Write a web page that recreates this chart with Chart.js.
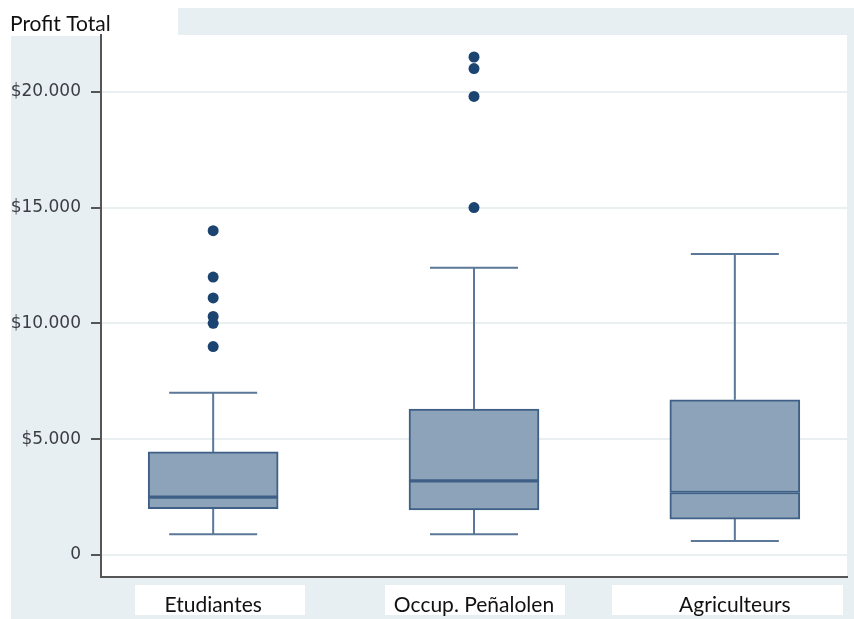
<!DOCTYPE html>
<html>
<head>
<meta charset="utf-8">
<script src="https://cdn.jsdelivr.net/npm/chart.js@4"></script>
<style>
  body { margin: 0; background: #fff; }
</style>
</head>
<body>
<canvas id="myChart" width="854" height="619"></canvas>
<script>
// data
const categories = ['Etudiantes', 'Occup. Peñalolen', 'Agriculteurs'];
const whiskerLow = [900, 900, 600];
const q1 = [2000, 1950, 1550];
const median = [2500, 3200, 2700];
const q3 = [4450, 6300, 6700];
const whiskerHigh = [7000, 12400, 13000];
const outliers = [
  [14000, 12000, 11100, 10300, 10000, 9000],
  [21500, 21000, 19800, 15000],
  []
];
const yTicks = [0, 5000, 10000, 15000, 20000];
const yTickLabels = ['0', '$5.000', '$10.000', '$15.000', '$20.000'];

const boxFill = '#8da3b9';
const boxLine = '#3e5f86';
const whiskerColor = '#5b7899';
const dotColor = '#1b4470';

// background: grey frame, white plot and white patches of the original
const backgroundPlugin = {
  id: 'background',
  beforeDraw(chart) {
    const ctx = chart.ctx;
    const a = chart.chartArea;
    ctx.save();
    ctx.fillStyle = '#ffffff';
    ctx.fillRect(0, 0, chart.width, chart.height);
    ctx.fillStyle = '#e8eff2';
    ctx.fillRect(11, 8, chart.width - 11, chart.height - 8);
    ctx.fillStyle = '#ffffff';
    ctx.fillRect(0, 0, 178, 36);
    ctx.fillRect(a.left, a.top, a.right - a.left, a.bottom - a.top);
    ctx.fillRect(135, 585, 170, 30);
    ctx.fillRect(385, 585, 180, 30);
    ctx.fillRect(612, 585, 231, 30);
    ctx.restore();
  }
};

// whiskers drawn behind the boxes
const whiskerPlugin = {
  id: 'whiskers',
  beforeDatasetsDraw(chart) {
    const ctx = chart.ctx;
    const x = chart.scales.x;
    const y = chart.scales.y;
    ctx.save();
    ctx.strokeStyle = whiskerColor;
    ctx.lineWidth = 2;
    categories.forEach((c, i) => {
      const px = x.getPixelForValue(i + 1);
      const lo = y.getPixelForValue(whiskerLow[i]);
      const hi = y.getPixelForValue(whiskerHigh[i]);
      ctx.beginPath();
      ctx.moveTo(px, lo);
      ctx.lineTo(px, y.getPixelForValue(q1[i]));
      ctx.moveTo(px, y.getPixelForValue(q3[i]));
      ctx.lineTo(px, hi);
      ctx.moveTo(px - 44, lo);
      ctx.lineTo(px + 44, lo);
      ctx.moveTo(px - 44, hi);
      ctx.lineTo(px + 44, hi);
      ctx.stroke();
    });
    ctx.restore();
  }
};

const outlierPoints = [];
outliers.forEach((list, i) => {
  list.forEach(v => outlierPoints.push({ x: i + 1, y: v }));
});

const boxStyle = {
  backgroundColor: boxFill,
  borderColor: boxLine,
  borderWidth: 2,
  borderSkipped: false,
  barThickness: 130,
  grouped: false
};

const data = {
  datasets: [
    Object.assign({
      type: 'bar',
      label: 'bas',
      data: q1.map((v, i) => ({ x: i + 1, y: [v, median[i]] }))
    }, boxStyle),
    Object.assign({
      type: 'bar',
      label: 'haut',
      data: median.map((v, i) => ({ x: i + 1, y: [v, q3[i]] }))
    }, boxStyle),
    {
      type: 'scatter',
      label: 'outliers',
      data: outlierPoints,
      pointRadius: 5.5,
      pointBackgroundColor: dotColor,
      pointBorderWidth: 0
    }
  ]
};

const config = {
  type: 'bar',
  data: data,
  options: {
    responsive: false,
    animation: false,
    layout: { padding: { left: 10, right: 7, top: 0, bottom: 0 } },
    plugins: {
      legend: { display: false },
      tooltip: { enabled: false },
      title: {
        display: true,
        text: 'Profit Total',
        align: 'start',
        color: '#111111',
        font: { family: 'Lato', size: 21, weight: 'normal', lineHeight: 1 },
        padding: { top: 14, bottom: 0 }
      }
    },
    scales: {
      x: {
        type: 'linear',
        offset: false,
        min: 0.57,
        max: 3.43,
        grid: { display: false, drawTicks: false },
        border: { display: true, color: '#555555', width: 2 },
        afterBuildTicks: s => { s.ticks = categories.map((c, i) => ({ value: i + 1 })); },
        afterFit: s => { s.height = 42; },
        ticks: {
          callback: (v) => categories[v - 1],
          color: '#111111',
          font: { family: 'Lato', size: 21 },
          padding: 16,
          maxRotation: 0,
          autoSkip: false
        }
      },
      y: {
        min: -950,
        max: 22450,
        grid: {
          color: '#eaf0f2',
          lineWidth: 2,
          tickColor: '#555555',
          tickWidth: 2,
          tickLength: 10
        },
        border: { display: true, color: '#555555', width: 2 },
        afterBuildTicks: s => { s.ticks = yTicks.map(v => ({ value: v })); },
        afterFit: s => { s.width = 91; },
        ticks: {
          callback: (v, i) => yTickLabels[i],
          color: '#3c3c46',
          font: { family: 'DejaVu Sans', size: 17 },
          padding: 10
        }
      }
    }
  },
  plugins: [backgroundPlugin, whiskerPlugin]
};

let myChart = new Chart(document.getElementById('myChart').getContext('2d'), config);
</script>
</body>
</html>
